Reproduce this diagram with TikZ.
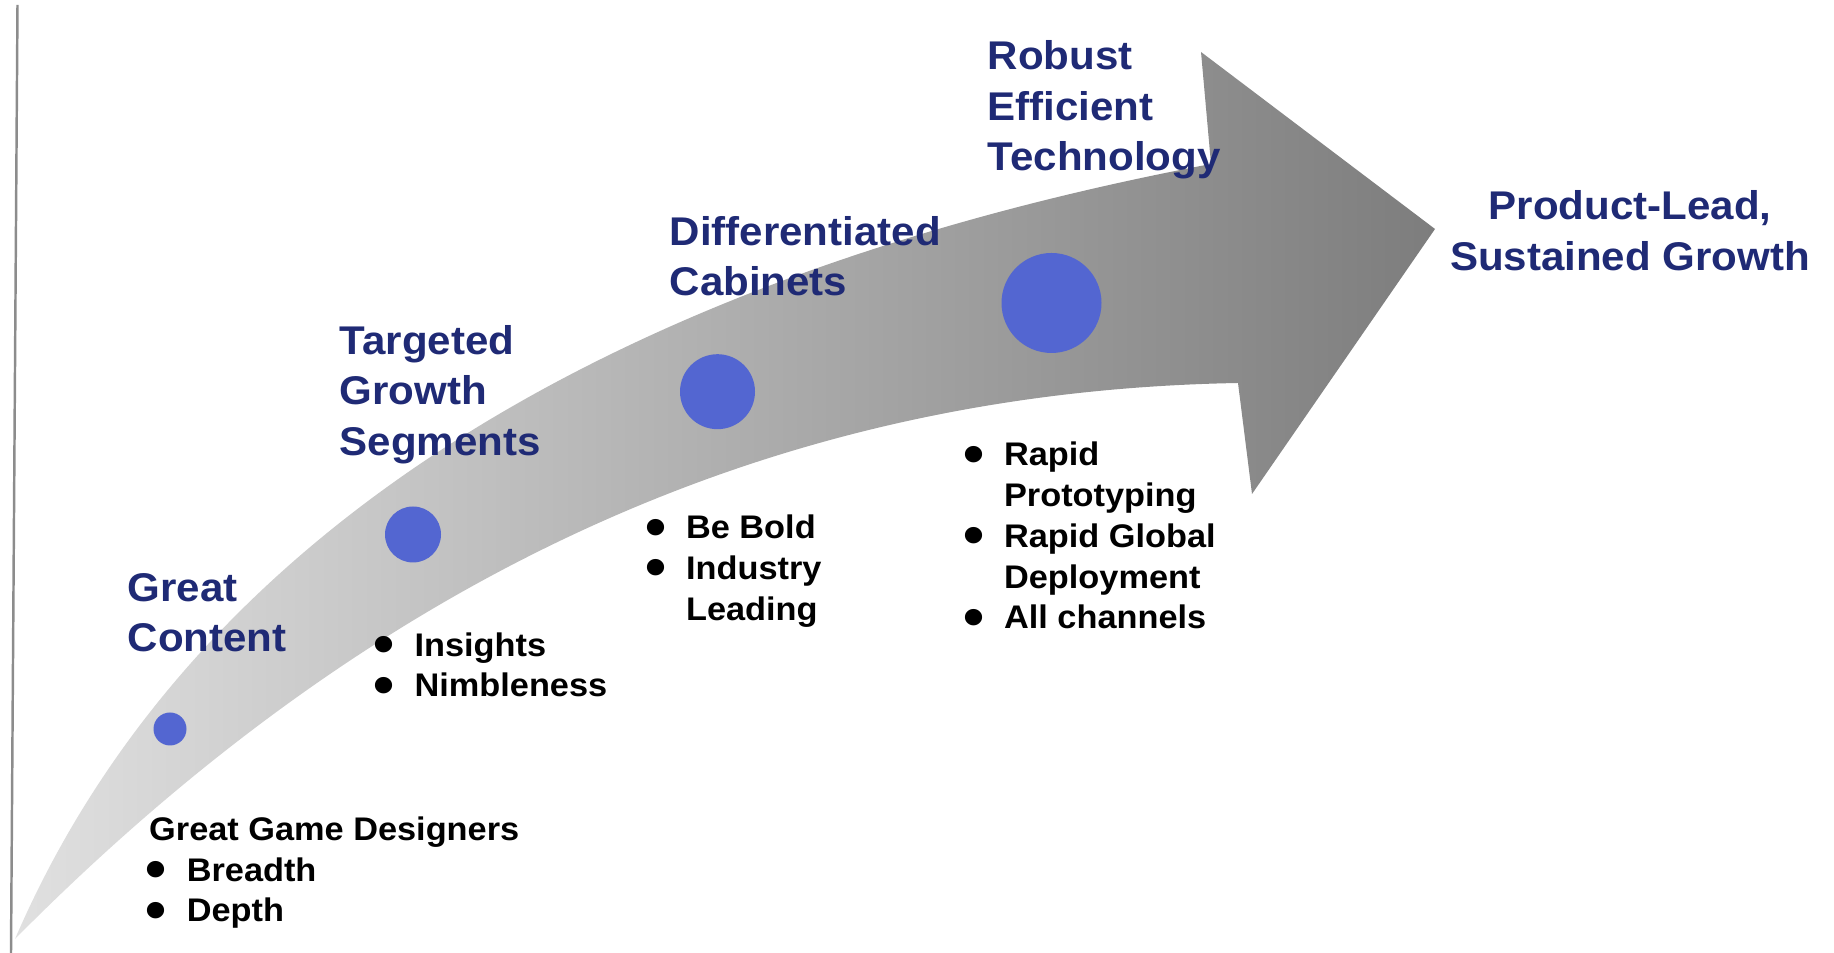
\documentclass[tikz,border=0pt]{standalone}
\usepackage{
  fontspec,
  graphicx,
  xcolor,
  tikz
}
\setmainfont{Liberation Sans}[FakeStretch=1.05]

\definecolor{navy}{HTML}{1F2A75}
\definecolor{dot}{HTML}{5366D1}
\definecolor{bandlight}{HTML}{E0E0E0}
\definecolor{banddark}{HTML}{7D7D7D}
\definecolor{rule}{HTML}{8C8C8C}

\newcommand{\stagefont}{\fontsize{11.4}{14.4}\selectfont\bfseries}
\newcommand{\pointfont}{\fontsize{9.3}{11.6}\selectfont\bfseries}
\newcommand{\itemdot}{\makebox[1.15em][l]{\hspace{-0.1em}\raisebox{-0.22em}{\scalebox{1.75}{\textbullet}}}}
\newcommand{\itemgap}{\hspace*{1.15em}}

\tikzset{
  stage/.style={font=\stagefont, text=navy, align=left, inner sep=0pt, anchor=base west},
  points/.style={font=\pointfont, align=left, inner sep=0pt, anchor=base west},
  milestone/.style={circle, fill=dot, inner sep=0pt}
}

\begin{document}
\begin{tikzpicture}[x=0.1mm, y=-0.1mm]
  \useasboundingbox (0,0) rectangle (1834,953);

  % axis on the left
  \draw[rule, line width=0.7pt] (17.5,5) -- (11,953);

  % the rising arrow
  \shade[left color=bandlight, right color=banddark]
    (15,939) .. controls (200,510) and (650,270) .. (1211,164)
    -- (1201,52) -- (1435,229) -- (1252,494) -- (1238,383)
    .. controls (850,390) and (430,520) .. (15,939) -- cycle;

  \node[milestone, minimum size=3.3mm] (m1) at (170,729) {};
  \node[milestone, minimum size=5.6mm] (m2) at (413,534.5) {};
  \node[milestone, minimum size=7.5mm] (m3) at (717.5,391.7) {};
  \node[milestone, minimum size=10mm] (m4) at (1051.5,303) {};

  % stage titles (placed at the baseline of their last line)
  \node[stage] (content) at (127,652) {Great\\Content};
  \node[stage] (segments) at (339,455.5) {Targeted\\Growth\\Segments};
  \node[stage] (cabinets) at (669,296) {Differentiated\\Cabinets};
  \node[stage] (technology) at (987,171) {Robust\\Efficient\\Technology};
  \node[stage, align=center, anchor=base] (growth) at (1630,270.5)
    {Product-Lead,\\Sustained Growth};

  % bullet lists
  \node[points] (designers) at (148.5,922)
    {Great Game Designers\\\itemdot Breadth\\\itemdot Depth};
  \node[points] (insights) at (376.3,697) {\itemdot Insights\\\itemdot Nimbleness};
  \node[points] (bold) at (647.8,620.5)
    {\itemdot Be Bold\\\itemdot Industry\\\itemgap Leading};
  \node[points] (rapid) at (965.8,629)
    {\itemdot Rapid\\\itemgap Prototyping\\\itemdot Rapid Global\\
     \itemgap Deployment\\\itemdot All channels};
\end{tikzpicture}
\end{document}
